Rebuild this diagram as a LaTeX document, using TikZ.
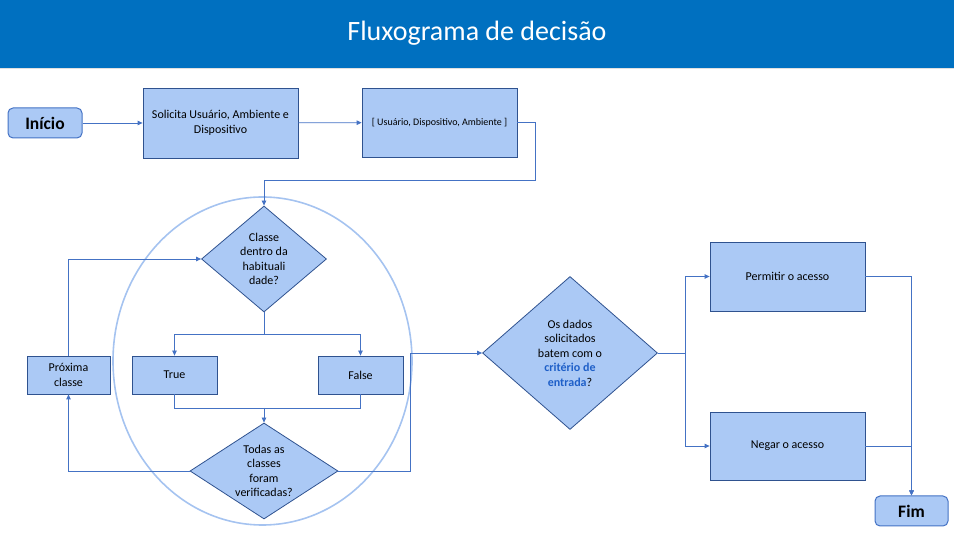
\documentclass[tikz,border=0pt]{standalone}
\usepackage{fontspec}
\setmainfont{Carlito}
\usetikzlibrary{shapes.geometric,arrows.meta}
\definecolor{titleblue}{RGB}{0,112,192}
\definecolor{lineblue}{RGB}{68,114,196}
\definecolor{boxline}{RGB}{47,82,143}
\definecolor{boxfill}{RGB}{171,201,245}
\definecolor{ringblue}{RGB}{165,195,240}
\definecolor{critblue}{RGB}{30,95,200}
\begin{document}
\begin{tikzpicture}[x=1pt,y=-1pt,
  txt/.style={font=\fontsize{12}{14.5}\selectfont, align=center},
  box/.style={draw=boxline, fill=boxfill, line width=0.8pt, inner sep=0pt, txt},
  term/.style={draw=lineblue, fill=boxfill, line width=1pt, rounded corners=5pt, inner sep=0pt, font=\fontsize{17.5}{20}\selectfont\bfseries},
  dia/.style={diamond, draw=boxline, fill=boxfill, line width=0.8pt, inner sep=0pt},
  lbl/.style={txt, inner sep=0pt},
  conn/.style={draw=lineblue, line width=0.8pt},
  arr/.style={conn, -{Triangle[length=5pt,width=4.5pt]}}
]
\path[use as bounding box] (0,0) rectangle (954,534);
% banner
\fill[titleblue] (0,0) rectangle (954,68);
\draw[color=black!12, line width=1pt] (0,68.5) -- (954,68.5);
\node[font=\fontsize{28}{32}\selectfont, text=white] (title) at (477,33) {Fluxograma de decisão};

% ring
\node[ellipse, draw=ringblue, line width=1.6pt, minimum width=299pt, minimum height=328pt, inner sep=0pt] (ring) at (262.5,361) {};

% nodes
\node[term, minimum width=74pt, minimum height=30pt] (inicio) at (45,123) {Início};
\node[box, minimum width=155pt, minimum height=70pt] (solicita) at (220.5,123) {Solicita Usuário, Ambiente e\\Dispositivo};
\node[box, minimum width=155pt, minimum height=69pt, font=\fontsize{10}{12}\selectfont] (lista) at (439.5,122.5) {[ Usuário, Dispositivo, Ambiente ]};

\node[dia, minimum width=125pt, minimum height=106pt,
  label={[lbl]center:{Classe\\dentro da\\habituali\\dade?}}] (dec1) at (264,259) {};
\node[box, minimum width=85pt, minimum height=38pt] (true) at (174.5,375) {True};
\node[box, minimum width=85pt, minimum height=38pt] (false) at (360.5,375) {False};
\node[dia, minimum width=148pt, minimum height=96pt,
  label={[lbl]center:{Todas as\\classes\\foram\\verificadas?}}] (dec2) at (264,471) {};
\node[box, minimum width=83pt, minimum height=38pt] (prox) at (68.5,375) {Próxima\\classe};

\node[dia, minimum width=175pt, minimum height=153pt,
  label={[lbl]center:{Os dados\\solicitados\\batem com o\\{\color{critblue}\bfseries critério de}\\{\color{critblue}\bfseries entrada}?}}] (dec3) at (570,353) {};
\node[box, minimum width=155pt, minimum height=69pt] (permitir) at (787.5,276.5) {Permitir o acesso};
\node[box, minimum width=155pt, minimum height=68pt] (negar) at (787.5,446) {Negar o acesso};
\node[term, minimum width=73pt, minimum height=30pt] (fim) at (911.5,511) {Fim};

% connectors
\coordinate (c1) at (535,180);
\coordinate (j1) at (264,334);
\coordinate (j2) at (264,408);
\draw[arr] (inicio) -- (solicita);
\draw[arr] (solicita) -- (lista);
\draw[arr] (lista.east) -| (c1) -| (dec1.north);
\draw[arr] (dec1.south) -- (j1) -| (true.north);
\draw[arr] (j1) -| (false.north);
\draw[conn] (true.south) |- (j2);
\draw[conn] (false.south) |- (j2);
\draw[arr] (j2) -- (dec2.north);
\draw[arr] (dec2.west) -| (prox.south);
\draw[arr] (prox.north) |- (dec1.west);
\draw[arr] (dec2.east) -- ++(72,0) |- (dec3.west);
\draw[arr] (dec3.east) -- ++(27,0) |- (permitir.west);
\draw[arr] (dec3.east) -- ++(27,0) |- (negar.west);
\draw[arr] (permitir.east) -| (fim.north);
\draw[arr] (negar.east) -| (fim.north);
\end{tikzpicture}
\end{document}
